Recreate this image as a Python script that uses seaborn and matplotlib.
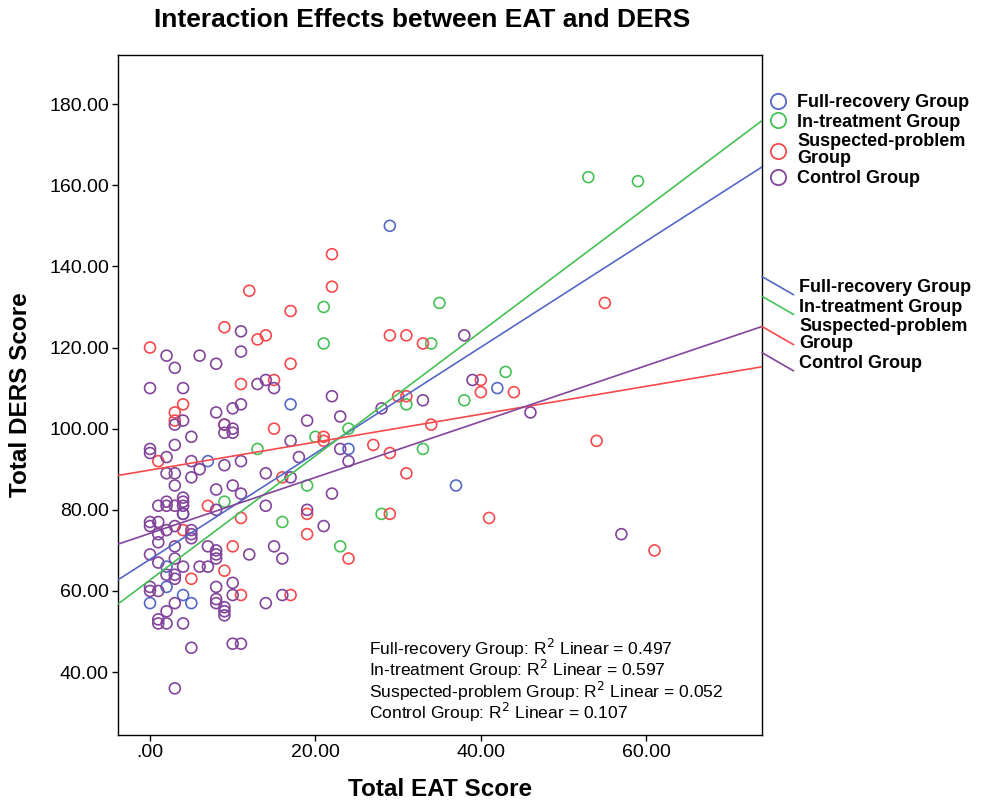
import matplotlib
matplotlib.use("Agg")
import matplotlib.pyplot as plt
from matplotlib.lines import Line2D
from matplotlib.legend_handler import HandlerBase
from matplotlib.ticker import FuncFormatter
import numpy as np
import pandas as pd
import seaborn as sns

groups = ["Full-recovery Group", "In-treatment Group", "Suspected-problem Group", "Control Group"]
legend_labels = ["Full-recovery Group", "In-treatment Group", "Suspected-problem\nGroup", "Control Group"]
colors = ["#5468C6", "#45C156", "#F5494C", "#83449B"]

# EAT / DERS scores, one pair of lists per group
full_eat = [29, 17, 42, 37, 24, 0, 7, 4, 2, 5, 4, 2]
full_ders = [150, 106, 110, 86, 95, 57, 92, 79, 66, 57, 59, 61]

treat_eat = [53, 59, 21, 21, 35, 34, 43, 38, 31, 24, 20, 33, 19, 16, 28, 23, 13, 9]
treat_ders = [162, 161, 130, 121, 131, 121, 114, 107, 106, 100, 98, 95, 86, 77, 79, 71, 95, 82]

susp_eat = [22, 22, 12, 17, 55, 29, 31, 33, 0, 13, 14, 17, 11, 15, 15, 21, 21, 4, 3, 3,
            9, 9, 1, 7, 4, 10, 9, 16, 11, 19, 19, 5, 11, 17, 40, 40, 44, 30, 31, 34,
            27, 29, 31, 29, 41, 24, 54, 61]
susp_ders = [143, 135, 134, 129, 131, 123, 123, 121, 120, 122, 123, 116, 111, 112, 100, 98, 97, 106, 104, 102,
             101, 125, 92, 81, 75, 71, 65, 88, 78, 79, 74, 63, 59, 59, 112, 109, 109, 108, 108, 101,
             96, 94, 89, 79, 78, 68, 97, 70]

ctrl_eat = [2, 6, 3, 8, 0, 4, 11, 11, 8, 10, 11, 4, 3, 9, 9, 10, 10, 5, 3, 0, 0, 2,
            13, 14, 15, 22, 19, 17, 23, 18, 11,
            5, 9, 2, 3, 5, 6, 3, 8, 10, 1, 2, 2, 3, 4, 4, 4, 4, 8, 0, 0, 1, 2, 3, 5, 5, 5,
            1, 1, 3, 7, 8, 8, 8, 3, 4, 6, 7, 1, 2, 3,
            14, 17, 11, 14, 22, 19, 21, 12, 15, 16,
            0, 1, 3, 2, 1, 1, 2, 4, 5, 3, 8, 8, 8, 9, 9, 9, 10, 10, 10, 11, 14, 16, 3, 0, 0,
            38, 39, 33, 28, 46, 23, 24, 57]
ctrl_ders = [118, 118, 115, 116, 110, 110, 119, 124, 104, 105, 106, 102, 101, 101, 99, 100, 99, 98, 96, 95, 94, 93,
             111, 112, 110, 108, 102, 97, 103, 93, 92,
             92, 91, 89, 89, 88, 90, 86, 85, 86, 81, 82, 81, 81, 83, 82, 81, 79, 80, 77, 76, 77, 75, 76, 75, 74, 73,
             74, 72, 71, 71, 70, 69, 68, 68, 66, 66, 66, 67, 64, 64,
             89, 88, 84, 81, 84, 80, 76, 69, 71, 68,
             61, 60, 57, 55, 53, 52, 52, 52, 46, 36, 61, 58, 57, 56, 54, 55, 62, 59, 47, 47, 57, 59, 63, 60, 69,
             123, 112, 107, 105, 104, 95, 92, 74]

# fitted linear lines (intercept, slope) and R2 as printed on the chart
fit_intercepts = [67.8, 62.7, 89.8, 74.2]
fit_slopes = [1.307, 1.530, 0.344, 0.689]
r2_values = ["0.497", "0.597", "0.052", "0.107"]


class DiagonalLineHandler(HandlerBase):
    """Legend handle drawn as a short falling line, like the SPSS fit-line legend."""

    def create_artists(self, legend, orig_handle, xdescent, ydescent, width, height, fontsize, trans):
        line = Line2D([-xdescent, width - xdescent], [height - ydescent + 2, -ydescent - 2],
                      color=orig_handle.get_color(), lw=orig_handle.get_linewidth())
        line.set_transform(trans)
        return [line]


def spss_fmt(v, _pos):
    s = f"{v:.2f}"
    return s[1:] if s.startswith("0.") else s


sns.set_theme(style="white")
plt.rcParams["font.family"] = ["Liberation Sans", "DejaVu Sans"]
plt.rcParams.update({"text.color": "black", "axes.labelcolor": "black",
                     "xtick.color": "black", "ytick.color": "black"})

df = pd.concat([
    pd.DataFrame({"eat": full_eat, "ders": full_ders, "group": groups[0]}),
    pd.DataFrame({"eat": treat_eat, "ders": treat_ders, "group": groups[1]}),
    pd.DataFrame({"eat": susp_eat, "ders": susp_ders, "group": groups[2]}),
    pd.DataFrame({"eat": ctrl_eat, "ders": ctrl_ders, "group": groups[3]}),
], ignore_index=True)

fig = plt.figure(figsize=(9.82, 8), dpi=100)
ax = fig.add_axes([118 / 982, 65 / 800, 644 / 982, 680 / 800])

sns.scatterplot(data=df, x="eat", y="ders", hue="group", hue_order=groups,
                palette=dict(zip(groups, colors)), s=62, linewidth=1.2,
                legend=False, ax=ax, zorder=3)
# SPSS draws hollow circles
coll = ax.collections[0]
fc = coll.get_facecolors()
coll.set_edgecolors(fc)
coll.set_facecolors("none")

xlim = (-3.87, 74.0)
xs = np.array(xlim)
for b0, b1, c in zip(fit_intercepts, fit_slopes, colors):
    ax.plot(xs, b0 + b1 * xs, color=c, lw=1.2, zorder=4)

ax.set_xlim(*xlim)
ax.set_ylim(24.5, 192.1)
ax.set_xticks([0, 20, 40, 60])
ax.set_yticks(range(40, 181, 20))
ax.xaxis.set_major_formatter(FuncFormatter(spss_fmt))
ax.yaxis.set_major_formatter(FuncFormatter(spss_fmt))
ax.tick_params(axis="both", labelsize=14, length=4, width=1, color="black",
               labelcolor="black", direction="out", pad=2.5, bottom=True, left=True)
for sp in ax.spines.values():
    sp.set_color("black")
    sp.set_linewidth(1)

ax.set_xlabel("Total EAT Score", fontsize=17.5, fontweight="bold")
ax.set_ylabel("Total DERS Score", fontsize=17.5, fontweight="bold")
ax.xaxis.set_label_coords(0.5, -0.063)
ax.yaxis.set_label_coords(-0.133, 0.5)

fig.text(422 / 982, 1 - 20 / 800, "Interaction Effects between EAT and DERS",
         ha="center", va="center", fontsize=19, fontweight="bold")

r2_text = "\n".join(f"{g}: R$^2$ Linear = {r2}" for g, r2 in zip(groups, r2_values))
fig.text(369 / 982, 1 - 637 / 800, r2_text, ha="left", va="top",
         fontsize=12.6, linespacing=0.9)

marker_handles = [Line2D([], [], marker="o", ls="", mfc="none", mec=c, mew=1.3, markersize=11)
                  for c in colors]
leg_kw = dict(loc="upper left", frameon=False, prop={"weight": "bold", "size": 13},
              labelspacing=0.15, borderpad=0, borderaxespad=0)
leg1 = fig.legend(marker_handles, legend_labels, bbox_to_anchor=(769 / 982, 1 - 94 / 800),
                  handlelength=0.95, handletextpad=0.6, **leg_kw)
line_handles = [Line2D([], [], color=c, lw=1.2) for c in colors]
leg2 = fig.legend(line_handles, legend_labels, bbox_to_anchor=(762 / 982, 1 - 279 / 800),
                  handlelength=1.75, handletextpad=0.3,
                  handler_map={Line2D: DiagonalLineHandler()}, **leg_kw)
for leg in (leg1, leg2):
    for t in leg.get_texts():
        t.set_linespacing(1.0)

fig.savefig("out.png", dpi=100)
